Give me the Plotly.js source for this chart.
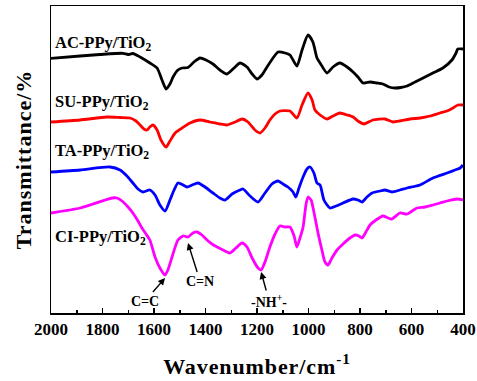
<!DOCTYPE html>
<html><head><meta charset="utf-8">
<script src="https://cdn.plot.ly/plotly-3.0.1.min.js"></script>
<style>
html,body{margin:0;padding:0;background:#fff}
#chart{width:477px;height:381px}
.xtitle{letter-spacing:0.9px}
.ytitle{letter-spacing:1px}
</style></head><body><div id="chart"></div>
<script>
// FTIR spectra (transmittance, arbitrary offset units) vs wavenumber (cm^-1)
const acWavenumber = [2000,1887,1810,1720,1701,1682,1654,1616,1588,1569,1553,1538,1526,1507,1491,1468,1445,1421,1398,1371,1344,1317,1289,1266,1239,1219,1200,1181,1161,1138,1118,1091,1072,1045,1025,1002,983,967,955,928,905,878,850,827,808,788,761,734,711,687,664,641,617,586,555,517,478,443,427,420,400];
const acTransmittance = [254.7,257,258.5,259.7,258.5,259.5,256,250,245,233,224,229,236,243,245,245.5,251,255,253,249,243,239,245,250,246,239,234,238,246,255,261,260,258,247,263,278,271,255,250,240,246,250,246,241,236,230,231,230,229,226,225,225.5,227,231,235,240,245,253,260,264,264];

const suWavenumber = [2000,1887,1783,1732,1693,1670,1654,1639,1627,1616,1604,1588,1573,1553,1538,1518,1491,1460,1421,1383,1344,1317,1285,1258,1235,1208,1188,1169,1150,1130,1111,1072,1045,1025,1002,986,975,955,928,905,878,850,827,808,784,750,703,672,645,606,567,528,489,462,439,420,400];
const suTransmittance = [191,193,196,195.5,195,192,188,184,183,186,188,183,173,166,172,180,185,190,193,191,189,188,191,194,191,183,180,185,193,199,202,202,195,208,220,213,203,198,194,197,200,198,196,192,189,193,194,191,192,194,195,197,200,202,205,208,208];

const taWavenumber = [2000,1887,1771,1732,1705,1682,1662,1643,1616,1596,1577,1557,1538,1522,1507,1487,1472,1452,1429,1402,1371,1344,1324,1297,1266,1254,1227,1196,1169,1142,1118,1099,1080,1060,1049,1037,1021,1006,994,979,967,955,940,917,893,866,827,808,792,773,753,722,703,676,645,617,567,517,462,431,411,400];
const taTransmittance = [141,143,146,143,137,130,124,121,123,118,108,102,113,123,130,128,126,128,130,126,120,115,113,119,123,124,117,111,120,129,132,129,126,121,116,125,136,144,146,140,130,128,113,105,107,110,114,113,111,116,120,122,123,121,123,125,128,135,140,143,145,148];

const ciWavenumber = [2000,1887,1763,1744,1724,1701,1682,1662,1647,1631,1616,1596,1577,1557,1546,1530,1507,1487,1468,1449,1433,1414,1394,1375,1355,1332,1305,1282,1258,1239,1219,1196,1184,1169,1150,1130,1111,1091,1072,1056,1045,1033,1021,1010,1002,990,983,963,948,936,924,909,889,866,839,819,804,792,777,761,738,711,691,676,645,617,598,579,548,517,489,462,423,400];
const ciTransmittance = [100,105,115,115,112,106,100,92,85,79,73,56,45,38,43,56,73,77,76,80,81,78,73,69,66,63,60,65,70,66,55,45,43,51,66,79,87,86,86,77,66,75,86,108,116,113,106,80,63,51,48,55,63,69,75,78,77,75,81,88,93,97,95,94,100,99,102,105,106,108,110,112,114,113];

const seriesNames = ['AC-PPy/TiO<sub>2</sub>','SU-PPy/TiO<sub>2</sub>','TA-PPy/TiO<sub>2</sub>','CI-PPy/TiO<sub>2</sub>'];
const seriesColors = ['#000000','#ff0000','#0000ff','#ff00ff'];
const xTickVals = [2000,1800,1600,1400,1200,1000,800,600,400];
const bandLabels = ['C=C','C=N','-NH<sup>+</sup>-'];
const bandWavenumbers = [1557,1468,1184];
const bandTipValues = [35,70,41];

const xs = [acWavenumber, suWavenumber, taWavenumber, ciWavenumber];
const ys = [acTransmittance, suTransmittance, taTransmittance, ciTransmittance];

const traces = xs.map((x,i)=>({
  x: x, y: ys[i], type:'scatter', mode:'lines', name: seriesNames[i],
  line:{color:seriesColors[i], width:2.8, shape:'spline', smoothing:0.6},
  hoverinfo:'skip'
}));

const serif = 'Liberation Serif, Times New Roman, serif';
const labelY = [270, 211, 162, 76];
const annotations = seriesNames.map((t,i)=>({
  text:t, x:1993, y:labelY[i], xref:'x', yref:'y', xanchor:'left', yanchor:'middle',
  showarrow:false, font:{family:serif, size:16.5, color:'#000', weight:'bold'}
}));
const bandOffsets = [[-20,23],[12,38],[8,29]];
bandLabels.forEach((t,i)=>{
  annotations.push({
    text:t, x:bandWavenumbers[i], y:bandTipValues[i], xref:'x', yref:'y',
    showarrow:true, arrowhead:2, arrowsize:1, arrowwidth:1.4, arrowcolor:'#000',
    ax:bandOffsets[i][0], ay:bandOffsets[i][1], standoff:0, startstandoff:0,
    font:{family:serif, size:14, color:'#000', weight:'bold'}
  });
});

const layout = {
  width:477, height:381,
  margin:{l:51, r:14, t:6, b:68},
  paper_bgcolor:'#fff', plot_bgcolor:'#fff',
  showlegend:false,
  xaxis:{
    range:[2000,400], autorange:false,
    tickvals:xTickVals, ticks:'inside', ticklen:5, tickwidth:1.5, tickcolor:'#000',
    minor:{dtick:100, tick0:400, ticks:'inside', ticklen:3, tickwidth:1.5, tickcolor:'#000'},
    showline:true, mirror:true, linecolor:'#000', linewidth:1.5,
    showgrid:false, zeroline:false,
    tickfont:{family:serif, size:17, color:'#000', weight:'bold'},
    title:{text:'Wavenumber/cm<sup>-1</sup>', standoff:20, font:{family:serif, size:22, color:'#000', weight:'bold'}}
  },
  yaxis:{
    range:[0,307], autorange:false,
    showticklabels:false, ticks:'',
    showline:true, mirror:true, linecolor:'#000', linewidth:1.5,
    showgrid:false, zeroline:false,
    title:{text:'Transmittance/%', standoff:12, font:{family:serif, size:22, color:'#000', weight:'bold'}}
  },
  annotations: annotations
};

Plotly.newPlot('chart', traces, layout, {staticPlot:true, displayModeBar:false});
</script></body></html>
